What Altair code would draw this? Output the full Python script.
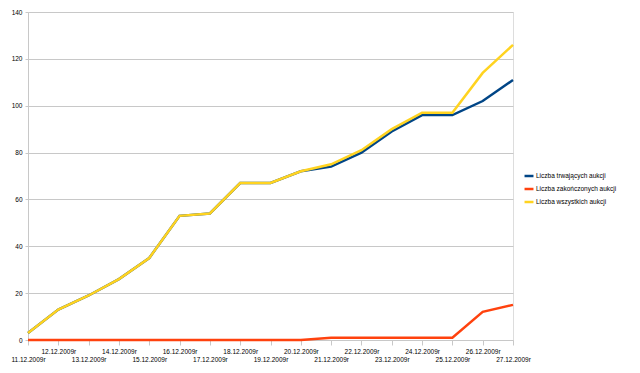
import altair as alt
import pandas as pd

dates = ["11.12.2009r", "12.12.2009r", "13.12.2009r", "14.12.2009r", "15.12.2009r",
         "16.12.2009r", "17.12.2009r", "18.12.2009r", "19.12.2009r", "20.12.2009r",
         "21.12.2009r", "22.12.2009r", "23.12.2009r", "24.12.2009r", "25.12.2009r",
         "26.12.2009r", "27.12.2009r"]
active = [3, 13, 19, 26, 35, 53, 54, 67, 67, 72, 74, 80, 89, 96, 96, 102, 111]
ended = [0, 0, 0, 0, 0, 0, 0, 0, 0, 0, 1, 1, 1, 1, 1, 12, 15]
total = [3, 13, 19, 26, 35, 53, 54, 67, 67, 72, 75, 81, 90, 97, 97, 114, 126]

series_names = ["Liczba trwających aukcji", "Liczba zakończonych aukcji", "Liczba wszystkich aukcji"]
series_colors = ["#004586", "#ff420e", "#ffd320"]

rows = []
for name, vals in zip(series_names, [active, ended, total]):
    for d, v in zip(dates, vals):
        rows.append({"date": d, "value": v, "series": name})
df = pd.DataFrame(rows)

font = "Liberation Sans"
grey = "#c8c8c8"

x_enc = alt.X("date:O", sort=dates, title=None,
              scale=alt.Scale(type="point", padding=0),
              axis=alt.Axis(labelAngle=0, labelFontSize=6.5, labelFont=font, labelColor="#000000",
                            labelPadding={"condition": {"test": "parseInt(slice(datum.value,0,2)) % 2 == 1", "value": 11}, "value": 3},
                            tickSize=5, tickColor=grey, domainColor=grey,
                            grid=False, labelOverlap=False, labelBound=False, labelFlush=False))
y_enc = alt.Y("value:Q", title=None,
              scale=alt.Scale(domain=[0, 140], nice=False),
              axis=alt.Axis(values=list(range(0, 141, 20)), labelFontSize=6.5, labelFont=font,
                            labelColor="#000000", tickSize=3, tickColor=grey,
                            domainColor=grey, gridColor=grey, labelPadding=3))
color_enc = alt.Color("series:N", title=None,
                      scale=alt.Scale(domain=series_names, range=series_colors),
                      legend=alt.Legend(orient="none", legendX=495, legendY=158,
                                        symbolType="stroke", symbolSize=80, symbolStrokeWidth=2.5,
                                        labelFontSize=6.5, labelFont=font, labelColor="#000000",
                                        rowPadding=2, labelOffset=1))

layers = []
for name in series_names:
    layers.append(
        alt.Chart(df).transform_filter(alt.datum.series == name)
        .mark_line(strokeWidth=2.5)
        .encode(x=x_enc, y=y_enc, color=color_enc)
    )

chart = alt.layer(*layers).properties(
    width=485, height=328,
    autosize=alt.AutoSizeParams(type="none"),
    padding={"left": 20, "top": 4, "right": 119, "bottom": 25},
).configure_view(stroke=grey, strokeWidth=1).configure(background="#ffffff")

chart.save("out.html", embed_options={"renderer": "svg", "actions": False})
